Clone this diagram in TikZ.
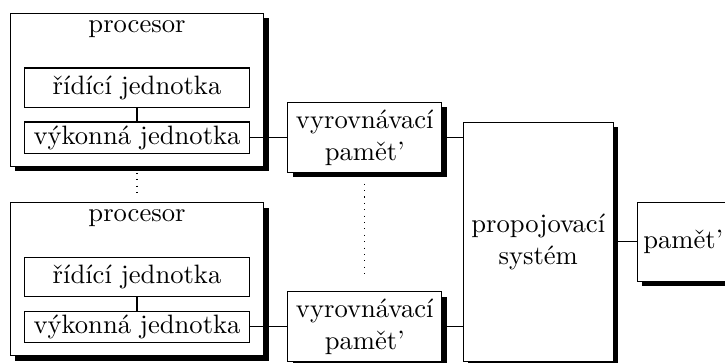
\documentclass[tikz,border=0pt]{standalone}
\usepackage{tikz}
\usetikzlibrary{positioning, shadows}

\tikzset{
  block/.style = {draw, fill=white, inner sep=0pt, align=center,
    drop shadow={shadow xshift=1.8pt, shadow yshift=-1.8pt, opacity=1, fill=black}},
  cpu/.style = {block, minimum width=95.3pt, minimum height=57.5pt},
  cache/.style = {block, minimum width=57.9pt, minimum height=26.3pt},
  unit/.style = {draw, fill=white, inner sep=0pt, minimum width=84.6pt},
}

\begin{document}
\begin{tikzpicture} [node distance = 1cm, on grid]

        \useasboundingbox (-51.5pt,-84.4pt) rectangle (221pt,51.7pt);
        \clip (-51.5pt,-84.4pt) rectangle (221pt,51.7pt);

        % two processors, each with a control and an execution unit
        \node (p1) [cpu] at (0,18pt) {};
        \node (v1) [unit, minimum height=11.7pt, below = 18pt of p1] {výkonná jednotka};
        \node (r1) [unit, minimum height=14.7pt, above = 18.8pt of v1] {řídící jednotka};
        \node (t1) [above = 22.1pt of r1] {procesor};

        \node (p2) [cpu, below = 71.3pt of p1] {};
        \node (v2) [unit, minimum height=11.7pt, below = 17.8pt of p2] {výkonná jednotka};
        \node (r2) [unit, minimum height=14.7pt, above = 18.8pt of v2] {řídící jednotka};
        \node (t2) [above = 22.1pt of r2] {procesor};

        % caches, interconnect and memory
        \node (c1) [cache, right = 85.6pt of v1] {vyrovnávací\\pamět'};
        \node (c2) [cache, right = 85.6pt of v2] {vyrovnávací\\pamět'};
        \node (bus) [block, minimum width=56.3pt, minimum height=89.7pt,
          below right = 39.2pt and 65.2pt of c1] {propojovací\\systém};
        \node (mem) [block, minimum width=34.6pt, minimum height=29.5pt,
          right = 54.5pt of bus] {pamět'};

        \draw
        (r1) -- (v1) (r2) -- (v2)
        (v1) -- (c1) (v2) -- (c2)
        (c1) -- (c1 -| bus.west) (c2) -- (c2 -| bus.west)
        (bus) -- (mem);
        \draw [dotted, shorten <= 2.3pt, shorten >= 2.3pt] (p1) -- (p2);
        \draw [dotted, shorten <= 4pt, shorten >= 5pt] (c1) -- (c2);

    \end{tikzpicture}
\end{document}
